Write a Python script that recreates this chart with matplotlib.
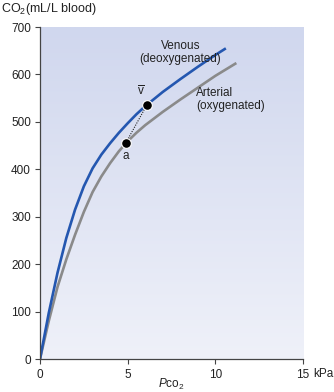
import numpy as np
import matplotlib
matplotlib.use("Agg")
import matplotlib.pyplot as plt
from matplotlib import font_manager
from matplotlib.colors import LinearSegmentedColormap

names = {f.name for f in font_manager.fontManager.ttflist}
base = "Liberation Sans Narrow" if "Liberation Sans Narrow" in names else "Liberation Sans"
plt.rcParams['font.family'] = [base, 'DejaVu Sans']
plt.rcParams['mathtext.fontset'] = 'custom'
plt.rcParams['mathtext.rm'] = base
plt.rcParams['mathtext.it'] = base + ':italic'

# CO2 dissociation curves (PCO2 in kPa, CO2 content in mL/L blood)
venous_p = [0, 0.5, 1.0, 1.5, 2.0, 2.5, 3.0, 3.5, 4.0, 4.5, 5.0, 5.5, 6.0, 7.0, 8.0, 9.0, 10.0, 10.6]
venous_c = [0, 97, 182, 255, 315, 364, 402, 431, 455, 477, 497, 516, 533, 563, 590, 616, 641, 655]
arterial_p = [0, 0.5, 1.0, 1.5, 2.0, 2.5, 3.0, 3.5, 4.0, 4.5, 5.0, 5.5, 6.0, 7.0, 8.0, 9.0, 10.0, 11.2]
arterial_c = [0, 80, 152, 210, 262, 310, 352, 385, 413, 438, 459, 477, 493, 521, 547, 572, 597, 624]

point_a = (4.9, 456)
point_v = (6.1, 536)

xticks = [0, 5, 10, 15]
yticks = [0, 100, 200, 300, 400, 500, 600, 700]

fig = plt.figure(figsize=(3.34, 3.92), dpi=100)
ax = fig.add_axes([40 / 334, 33 / 392, 263 / 334, 332 / 392])

# gradient background
cmap = LinearSegmentedColormap.from_list("bg", ["#eff1f9", "#d0d7ee"])
grad = np.linspace(0, 1, 256).reshape(-1, 1)
ax.imshow(grad, extent=[0, 15, 0, 700], origin="lower", aspect="auto",
          cmap=cmap, zorder=0)

ax.plot(arterial_p, arterial_c, color="#8a8a8a", lw=1.9, zorder=2,
        solid_capstyle="butt", solid_joinstyle="round")
ax.plot(venous_p, venous_c, color="#2457b0", lw=1.9, zorder=2,
        solid_capstyle="butt", solid_joinstyle="round")
ax.plot([point_a[0], point_v[0]], [point_a[1], point_v[1]], color="#222222",
        lw=0.8, ls=(0, (1, 1.2)), zorder=3)
ax.plot([point_a[0], point_v[0]], [point_a[1], point_v[1]], "o", color="black",
        ms=7, mec="white", mew=0.8, zorder=4)

fs = 8.5
ax.text(point_v[0] - 0.35, point_v[1] + 14, r"$\overline{\mathrm{v}}$",
        fontsize=fs, ha="center", va="bottom", color="#222222")
ax.text(point_a[0], point_a[1] - 15, "a", fontsize=fs, ha="center", va="top",
        color="#222222")
ax.text(8.0, 647, "Venous\n(deoxygenated)", fontsize=fs, ha="center",
        va="center", color="#222222", linespacing=1.1)
ax.text(8.9, 547, "Arterial\n(oxygenated)", fontsize=fs, ha="left",
        va="center", color="#222222", linespacing=1.1)

ax.set_xlim(0, 15)
ax.set_ylim(0, 700)
ax.set_xticks(xticks)
ax.set_yticks(yticks)
ax.tick_params(labelsize=fs, length=3.5, width=0.8, color="#444444",
               labelcolor="#222222")
ax.tick_params(axis="x", pad=4)
ax.tick_params(axis="y", pad=3)
for side in ["top", "right"]:
    ax.spines[side].set_visible(False)
for side in ["left", "bottom"]:
    ax.spines[side].set_color("#444444")
    ax.spines[side].set_linewidth(0.9)

fig.text(1 / 334, 1 - 9 / 392, r"CO$_2$(mL/L blood)", fontsize=9,
         ha="left", va="center", color="#222222")
fig.text(171 / 334, 1 - 384 / 392, r"$P$co$_2$", fontsize=fs, ha="center",
         va="center", color="#222222")
fig.text(323 / 334, 1 - 374 / 392, "kPa", fontsize=fs, ha="center",
         va="center", color="#222222")

fig.savefig("out.png", dpi=100)
